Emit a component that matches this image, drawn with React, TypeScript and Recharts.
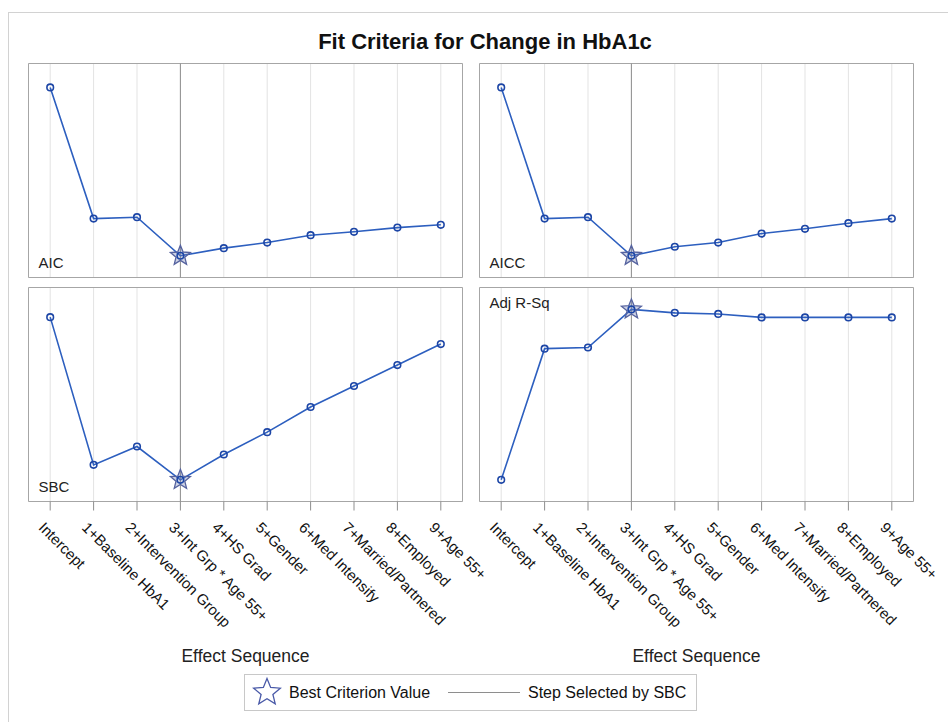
import {
  CartesianGrid,
  ComposedChart,
  Line,
  ReferenceArea,
  ReferenceLine,
  Scatter,
  XAxis,
  YAxis,
} from "recharts"

const FONT = '"Liberation Sans", Arial, Helvetica, sans-serif'

// effect sequence (x categories)
const steps = [
  "Intercept",
  "1+Baseline HbA1",
  "2+Intervention Group",
  "3+Int Grp * Age 55+",
  "4+HS Grad",
  "5+Gender",
  "6+Med Intensify",
  "7+Married/Partnered",
  "8+Employed",
  "9+Age 55+",
]

// criteria values (no axis values shown, so units are relative)
const aic = [612.0, 546.3, 547.0, 527.7, 531.5, 534.3, 538.0, 539.7, 541.8, 543.2]
const aicc = [612.2, 546.5, 547.2, 527.9, 532.4, 534.5, 539.0, 541.4, 544.2, 546.5]
const sbc = [620.0, 546.0, 555.2, 538.5, 551.2, 562.4, 575.0, 585.5, 596.0, 606.5]
const adjRsq = [0.0, 0.231, 0.233, 0.3, 0.294, 0.292, 0.286, 0.286, 0.286, 0.286]

const argMin = (v: number[]) => v.indexOf(Math.min(...v))
const argMax = (v: number[]) => v.indexOf(Math.max(...v))

const selectedStep = argMin(sbc)
const tickIdx = steps.map((_, i) => i)

const LINE = "#2d5fbf"
const MARKER = "#1d46a6"
const GRID = "#e3e3e3"
const FRAME = "#a6a6a6"
const REF = "#8e8e8e"

function starPoints(cx: number, cy: number, R: number, r: number) {
  const pts: string[] = []
  for (let i = 0; i < 10; i++) {
    const rad = i % 2 === 0 ? R : r
    const a = -Math.PI / 2 + (i * Math.PI) / 5
    pts.push(`${cx + rad * Math.cos(a)},${cy + rad * Math.sin(a)}`)
  }
  return pts.join(" ")
}

function StarShape(props: any) {
  const { cx, cy } = props
  if (cx == null || cy == null) return null
  return (
    <polygon
      points={starPoints(cx, cy, 10.5, 4.6)}
      fill="rgba(111,126,179,0.35)"
      stroke="#56639f"
      strokeWidth={1.3}
    />
  )
}

function RotTick(props: any) {
  const { x, y, payload } = props
  return (
    <text
      transform={`translate(${x - 12.5},${y + 16}) rotate(45)`}
      textAnchor="start"
      fontSize={15}
      fontFamily={FONT}
      fill="#111"
    >
      {steps[payload.value]}
    </text>
  )
}

interface PanelProps {
  name: string
  values: number[]
  domain: [number, number]
  best: number
  labelPos: "insideBottomLeft" | "insideTopLeft"
  bottomRow: boolean
  left: number
  top: number
}

function Panel({ name, values, domain, best, labelPos, bottomRow, left, top }: PanelProps) {
  const rows = values.map((v, i) => ({ step: i, value: v }))
  const axisH = bottomRow ? 160 : 0
  const extraR = bottomRow ? 60 : 0
  const extraB = bottomRow ? 10 : 0
  return (
    <div style={{ position: "absolute", left, top }}>
      <ComposedChart
        width={435 + extraR}
        height={215 + axisH + extraB}
        data={rows}
        margin={{ top: 0.5, right: 0.5 + extraR, left: 0.5, bottom: 0.5 + extraB }}
      >
        <CartesianGrid horizontal={false} stroke={GRID} />
        <XAxis
          type="number"
          dataKey="step"
          domain={[-0.5, 9.5]}
          ticks={tickIdx}
          interval={0}
          hide={!bottomRow}
          height={axisH}
          axisLine={false}
          tickLine={{ stroke: REF }}
          tickSize={9}
          tick={<RotTick />}
          label={
            bottomRow
              ? { value: "Effect Sequence", position: "insideBottom", offset: 0, fontSize: 17.5, fill: "#222", fontFamily: FONT }
              : undefined
          }
        />
        <YAxis hide type="number" domain={domain} allowDataOverflow />
        <ReferenceLine x={selectedStep} stroke={REF} strokeWidth={1} />
        <ReferenceArea
          x1={-0.5}
          x2={9.5}
          y1={domain[0]}
          y2={domain[1]}
          fill="none"
          stroke={FRAME}
          ifOverflow="visible"
          label={{ value: name, position: labelPos, offset: 10, fontSize: 15, fill: "#222", fontFamily: FONT }}
        />
        <Scatter
          data={[{ step: best, value: values[best] }]}
          dataKey="value"
          shape={<StarShape />}
          isAnimationActive={false}
        />
        <Line
          dataKey="value"
          stroke={LINE}
          strokeWidth={1.6}
          dot={{ r: 3.3, stroke: MARKER, strokeWidth: 1.6, fill: "none" }}
          activeDot={false}
          isAnimationActive={false}
        />
      </ComposedChart>
    </div>
  )
}

export default function App() {
  return (
    <div
      style={{
        position: "absolute",
        left: 0,
        top: 0,
        width: 948,
        height: 722,
        overflow: "hidden",
        background: "#fff",
        fontFamily: FONT,
      }}
    >
      <svg width={948} height={722} style={{ position: "absolute", left: 0, top: 0 }}>
        <rect x={8.5} y={12.5} width={960} height={730} fill="none" stroke="#d2d2d2" />
        <text x={485} y={49} textAnchor="middle" fontSize={22} fontWeight="bold" fontFamily={FONT} fill="#111">
          Fit Criteria for Change in HbA1c
        </text>
        {/* legend */}
        <rect x={244.5} y={674.5} width={452} height={36} fill="#fff" stroke="#c8c8c8" />
        <polygon points={starPoints(267, 692.5, 14, 6.2)} fill="none" stroke="#4a5aa8" strokeWidth={1.3} />
        <text x={289} y={698} fontSize={16} fontFamily={FONT} fill="#111">
          Best Criterion Value
        </text>
        <line x1={448} x2={520} y1={692.5} y2={692.5} stroke={REF} />
        <text x={528} y={698} fontSize={16} fontFamily={FONT} fill="#111">
          Step Selected by SBC
        </text>
      </svg>
      <Panel name="AIC" values={aic} domain={[516.8, 624.0]} best={argMin(aic)} labelPos="insideBottomLeft" bottomRow={false} left={28} top={63} />
      <Panel name="AICC" values={aicc} domain={[517.0, 624.2]} best={argMin(aicc)} labelPos="insideBottomLeft" bottomRow={false} left={479} top={63} />
      <Panel name="SBC" values={sbc} domain={[527.65, 634.85]} best={argMin(sbc)} labelPos="insideBottomLeft" bottomRow left={28} top={287} />
      <Panel name="Adj R-Sq" values={adjRsq} domain={[-0.0381, 0.3386]} best={argMax(adjRsq)} labelPos="insideTopLeft" bottomRow left={479} top={287} />
    </div>
  )
}
